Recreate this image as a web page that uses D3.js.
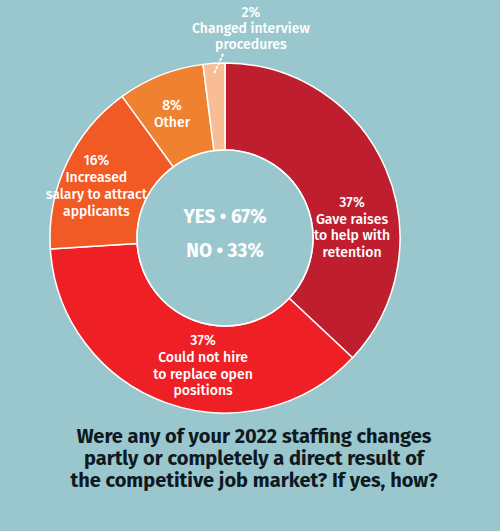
<!DOCTYPE html>
<html><head><meta charset="utf-8">
<script src="https://cdn.jsdelivr.net/npm/d3@7"></script>
<style>
html,body{margin:0;padding:0;background:#9AC7CD;}
svg{display:block;}
</style></head>
<body>
<svg id="chart" width="500" height="531"></svg>
<script>
// ---- data ----
const categories = ["Gave raises to help with retention", "Could not hire to replace open positions", "Increased salary to attract applicants", "Other", "Changed interview procedures"];
const values = [37, 37, 16, 8, 2];
const labelLines = [
  ["37%", "Gave raises", "to help with", "retention"],
  ["37%", "Could not hire", "to replace open", "positions"],
  ["16%", "Increased", "salary to attract", "applicants"],
  ["8%", "Other"],
  ["2%", "Changed interview", "procedures"]
];
const centerLines = ["YES • 67%", "NO • 33%"];
const titleLines = ["Were any of your 2022 staffing changes", "partly or completely a direct result of", "the competitive job market? If yes, how?"];

// ---- styling ----
const colors = ["#BE1E2D", "#EE2026", "#F15A24", "#EF8130", "#F8BD95"];
const W = 500, H = 531;
const cx = 225, cy = 238, rOuter = 175, rInner = 88;
const FONT = "'Fira Sans', Lato, 'Open Sans', sans-serif";
// angular nudges (degrees) for label placement inside ring
const labelShift = [18.4, -10, -3, -1.5, 0];
const labelRadius = [127.5, 129, 139, 135, 0];

const svg = d3.select("#chart");
svg.append("rect").attr("width", W).attr("height", H).attr("fill", "#9AC7CD");

const pie = d3.pie().sort(null).value(d => d)(values);
const arc = d3.arc().innerRadius(rInner).outerRadius(rOuter);

const g = svg.append("g").attr("transform", `translate(${cx},${cy})`);
g.selectAll("path.slice").data(pie).join("path")
  .attr("class", "slice")
  .attr("d", arc)
  .attr("fill", (d, i) => colors[i])
  .attr("stroke", "#fff")
  .attr("stroke-width", 1.5)
  .attr("stroke-linejoin", "round");

g.append("circle").attr("r", rInner).attr("fill", "#9AC7CD").attr("stroke", "#fff").attr("stroke-width", 1.5);

// inside labels
const lh = 16.8;
pie.forEach((d, i) => {
  if (i === 4) return;
  const a = (d.startAngle + d.endAngle) / 2 + labelShift[i] * Math.PI / 180;
  const x = labelRadius[i] * Math.sin(a), y = -labelRadius[i] * Math.cos(a);
  const lines = labelLines[i];
  const y0 = y - (lines.length - 1) * lh / 2 + 5;
  const t = g.append("text").attr("text-anchor", "middle")
    .attr("font-family", FONT).attr("font-size", 14).attr("font-weight", 500).attr("fill", "#fff");
  lines.forEach((s, k) => t.append("tspan").attr("x", x).attr("y", y0 + k * lh).text(s));
});

// outside label for small slice
{
  const d = pie[4];
  const mid = (d.startAngle + d.endAngle) / 2;
  const la = 7 * Math.PI / 180, lr = 212;
  const x = lr * Math.sin(la), y = -lr * Math.cos(la);
  const lines = labelLines[4];
  const lh2 = 16;
  const y0 = y - (lines.length - 1) * lh2 / 2 + 5;
  const t = g.append("text").attr("text-anchor", "middle")
    .attr("font-family", FONT).attr("font-size", 14).attr("font-weight", 500).attr("fill", "#fff");
  lines.forEach((s, k) => t.append("tspan").attr("x", x).attr("y", y0 + k * lh2).text(s));
  const p1 = [166 * Math.sin(mid), -166 * Math.cos(mid)];
  const ea = -0.3 * Math.PI / 180;
  const p2 = [186 * Math.sin(ea), -186 * Math.cos(ea)];
  g.append("line").attr("x1", p1[0]).attr("y1", p1[1]).attr("x2", p2[0]).attr("y2", p2[1])
    .attr("stroke", "#fff").attr("stroke-width", 2).attr("stroke-dasharray", "1.5 3").attr("stroke-linecap", "round");
}

// center text
const ct = g.append("text").attr("text-anchor", "middle")
  .attr("font-family", FONT).attr("font-size", 19).attr("font-weight", 700).attr("fill", "#fff");
centerLines.forEach((s, k) => ct.append("tspan").attr("x", 0).attr("y", -15 + k * 34).text(s));

// title
const tt = svg.append("text").attr("text-anchor", "middle")
  .attr("font-family", FONT).attr("font-size", 20).attr("font-weight", 700).attr("fill", "#0E1A1F");
titleLines.forEach((s, k) => tt.append("tspan").attr("x", 254).attr("y", 443 + k * 22).text(s));
</script>
</body></html>
